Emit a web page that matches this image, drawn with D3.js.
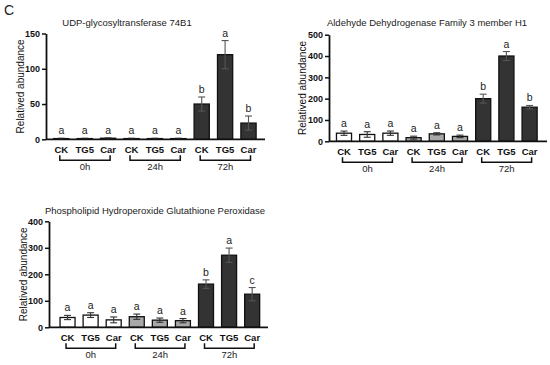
<!DOCTYPE html>
<html><head><meta charset="utf-8">
<script src="https://cdn.jsdelivr.net/npm/d3@7"></script>
<style>body{margin:0;background:#fff}svg{display:block}text{font-family:"Liberation Sans",Arial,sans-serif}</style>
</head><body><svg id="c" width="550" height="365"></svg>
<script>
const categories = ["CK","TG5","Car","CK","TG5","Car","CK","TG5","Car"];
const groups = ["0h","24h","72h"];
const groupOf = [0,0,0,1,1,1,2,2,2];

const titles = ["UDP-glycosyltransferase 74B1","Aldehyde Dehydrogenase Family 3 member H1","Phospholipid Hydroperoxide Glutathione Peroxidase"];

const ugtMean = [1,1,1.5,1,1,1,50,120,23];
const ugtErr  = [0.5,0.5,0.5,0.5,0.5,0.5,10,20,10];
const ugtLetters = ["a","a","a","a","a","a","b","a","b"];
const ugtTicks = [0,50,100,150];

const aldMean = [38,32,38,17,35,23,200,400,160];
const aldErr  = [10,13,10,7,5,6,21,21,8];
const aldLetters = ["a","a","a","a","a","a","b","a","b"];
const aldTicks = [0,100,200,300,400,500];

const phgMean = [37,46,28,40,27,25,163,272,125];
const phgErr  = [8,9,11,10,8,8,16,27,25];
const phgLetters = ["a","a","a","a","a","a","b","a","c"];
const phgTicks = [0,100,200,300,400];

const fills = ["#ffffff","#a8a8a8","#333333"];

const panels = [
  {title:titles[0], mean:ugtMean, err:ugtErr, letters:ugtLetters, ticks:ugtTicks,
   ax0:46, ax1:265, b0:49.6, b1:260.2, y0:139.3, yTop:33.5, titleX:127, titleY:26, ylabX:20},
  {title:titles[1], mean:aldMean, err:aldErr, letters:aldLetters, ticks:aldTicks,
   ax0:329, ax1:547, b0:332.4, b1:541.2, y0:141.3, yTop:34.7, titleX:427, titleY:26, ylabX:302},
  {title:titles[2], mean:phgMean, err:phgErr, letters:phgLetters, ticks:phgTicks,
   ax0:49, ax1:268, b0:56, b1:263.7, y0:327.3, yTop:221.3, titleX:155, titleY:214, ylabX:23}
];

const svg = d3.select("#c");
svg.append("text").attr("x",4).attr("y",15).attr("font-size",14).attr("font-weight","normal").attr("fill","#222").text("C");

panels.forEach(p => {
  const g = svg.append("g");
  const x = d3.scaleBand().domain(d3.range(9)).range([p.b0,p.b1]).paddingInner(0.35).paddingOuter(0.175);
  const yMax = p.ticks[p.ticks.length-1];
  const y = d3.scaleLinear().domain([0,yMax]).range([p.y0,p.yTop]);

  g.append("text").attr("x",p.titleX).attr("y",p.titleY).attr("text-anchor","middle")
    .attr("font-size",9.5).attr("fill","#222").text(p.title);
  g.append("text").attr("transform",`translate(${p.ylabX+3.5},${(p.y0+p.yTop)/2}) rotate(-90)`)
    .attr("text-anchor","middle").attr("font-size",10).attr("fill","#111").text("Relatived abundance");

  const ya = g.append("g").attr("transform",`translate(${p.ax0},0)`)
    .call(d3.axisLeft(y).tickValues(p.ticks).tickSize(4).tickSizeOuter(0).tickPadding(2));
  ya.select(".domain").attr("stroke","#111").attr("stroke-width",1.8);
  ya.selectAll(".tick line").attr("stroke","#111").attr("stroke-width",1.5);
  ya.selectAll(".tick text").attr("font-size",9).attr("font-weight","bold").attr("fill","#111")
    .attr("font-family","Liberation Sans, Arial, sans-serif");

  const bw = x.bandwidth();
  g.selectAll("rect.bar").data(p.mean).join("rect")
    .attr("x",(d,i)=>x(i)).attr("width",bw)
    .attr("y",d=>y(d)).attr("height",d=>p.y0-y(d))
    .attr("fill",(d,i)=>fills[groupOf[i]]).attr("stroke","#111").attr("stroke-width",1.3);

  p.mean.forEach((m,i) => {
    const cx = x(i)+bw/2, lo = y(Math.max(0,m-p.err[i])), hi = y(m+p.err[i]);
    const col = groupOf[i]===2 ? "#555" : "#333";
    g.append("line").attr("x1",cx).attr("x2",cx).attr("y1",lo).attr("y2",hi).attr("stroke",col).attr("stroke-width",1.1);
    g.append("line").attr("x1",cx-3.5).attr("x2",cx+3.5).attr("y1",hi).attr("y2",hi).attr("stroke",col).attr("stroke-width",1.1);
    g.append("line").attr("x1",cx-3.5).attr("x2",cx+3.5).attr("y1",lo).attr("y2",lo).attr("stroke",col).attr("stroke-width",1.1);
    g.append("text").attr("x",cx).attr("y",hi-4).attr("text-anchor","middle")
      .attr("font-size",10.5).attr("fill","#222").text(p.letters[i]);
    g.append("text").attr("x",cx).attr("y",p.y0+14).attr("text-anchor","middle")
      .attr("font-size",9.5).attr("font-weight","bold").attr("fill","#111").text(categories[i]);
  });

  g.append("line").attr("x1",p.ax0).attr("x2",p.ax1).attr("y1",p.y0).attr("y2",p.y0)
    .attr("stroke","#111").attr("stroke-width",1.8);

  groups.forEach((gn,k) => {
    const idx = d3.range(9).filter(i=>groupOf[i]===k);
    const xa = x(idx[0])+bw/2-1.5, xb = x(idx[idx.length-1])+bw/2+2;
    const yb = p.y0+21, yt = p.y0+16;
    g.append("path").attr("d",`M${xa},${yt}V${yb}H${xb}V${yt}`).attr("fill","none")
      .attr("stroke","#111").attr("stroke-width",1.5);
    g.append("text").attr("x",(xa+xb)/2).attr("y",p.y0+31).attr("text-anchor","middle")
      .attr("font-size",9.5).attr("fill","#222").text(gn);
  });
});
</script></body></html>
